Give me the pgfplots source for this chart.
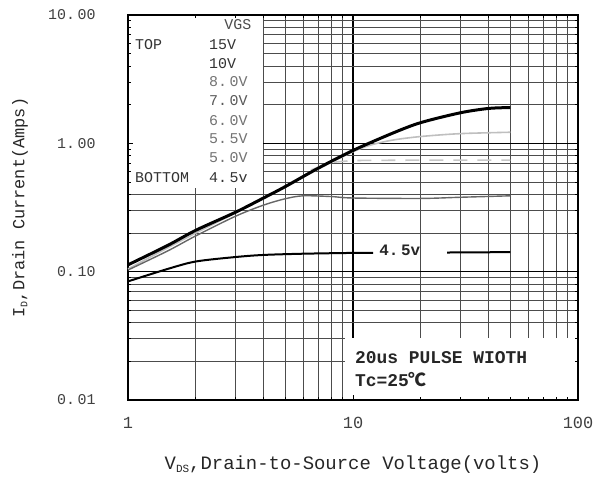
\documentclass[border=0pt]{standalone}
\usepackage{fontspec}
\setmainfont{Liberation Mono}
\newfontfamily\cjk{Noto Sans CJK SC}
\usepackage{pgfplots}
\pgfplotsset{compat=1.18}
\pgfdeclarelayer{boxes}
\pgfplotsset{layers/mine/.define layer set={axis background,axis grid,boxes,axis ticks,axis lines,axis tick labels,pre main,main,axis descriptions,axis foreground}{
 grid style={/pgfplots/on layer=axis grid},
 tick style={/pgfplots/on layer=axis ticks},
 axis line style={/pgfplots/on layer=axis lines},
 label style={/pgfplots/on layer=axis descriptions},
 legend style={/pgfplots/on layer=axis descriptions},
 title style={/pgfplots/on layer=axis descriptions},
 ticklabel style={/pgfplots/on layer=axis tick labels},
 axis background@ style={/pgfplots/on layer=axis background},
 3d box foreground style={/pgfplots/on layer=axis foreground},
}}
\newcommand{\ds}{.\hspace{2.5bp}}
\begin{document}
\begin{tikzpicture}
\begin{axis}[
 set layers=mine,
 xmode=log, ymode=log,
 scale only axis, width=450bp, height=385bp,
 xmin=1, xmax=100, ymin=0.01, ymax=10,
 xtick={1,10,100}, xticklabels={1,10,100},
 ytick={0.01,0.1,1,10}, yticklabels={0\ds 01,0\ds 10,1\ds 00,10\ds 00},
 grid=both,
 major grid style={black, line width=1.6bp},
 minor grid style={black!70, line width=0.9bp},
 axis line style={black, line width=2.2bp},
 tick style={black, line width=0.8bp},
 major tick length=5bp, minor tick length=3bp,
 tick align=inside,
 xticklabel style={font=\fontsize{17}{19}\selectfont, text=black!75, yshift=-14bp},
 yticklabel style={font=\fontsize{15}{17}\selectfont, text=black!75, xshift=-29bp},
 xlabel={V{\fontsize{11}{11}\selectfont\raisebox{-3bp}{DS}},Drain-to-Source Voltage(volts)},
 ylabel={I{\fontsize{10}{10}\selectfont\raisebox{-3bp}{D}},Drain Current(Amps)},
 xlabel style={at={(axis description cs:0.5,-0.169)}, anchor=center, font=\fontsize{19}{21}\selectfont, text=black!85},
 ylabel style={at={(axis description cs:-0.24,0.5)}, anchor=center, font=\fontsize{17}{19}\selectfont, text=black!85},
 clip=false,
]
\begin{pgfonlayer}{boxes}
\fill[white] (rel axis cs:0,0.551) rectangle (rel axis cs:0.3,1);
\fill[white] (rel axis cs:0.482,0) rectangle (rel axis cs:1,0.161);
\end{pgfonlayer}

% 6.0V light gray
\addplot[black!25, line width=1.6bp, smooth] coordinates {
(1,0.105) (2,0.2) (4,0.37) (7,0.63) (10,0.86) (12,0.97) (15,1.06) (20,1.13) (30,1.19) (50,1.22)};
% 5.0V dashed light gray
\addplot[black!22, line width=1.6bp, dash pattern=on 14bp off 10bp] coordinates {
(6.5,0.62) (8,0.71) (10,0.735) (20,0.74) (50,0.74)};
% 5.5V dark gray
\addplot[black!60, line width=1.4bp, smooth] coordinates {
(1,0.103) (1.5,0.145) (2,0.19) (3,0.27) (4,0.33) (5,0.37) (6,0.39) (8,0.385) (10,0.375) (20,0.372) (30,0.38) (50,0.39)};
% 15V .. 7.0V thick black
\addplot[black, line width=3bp, smooth] coordinates {
(1,0.113) (1.5,0.16) (2,0.21) (3,0.29) (4,0.375) (5,0.46) (7,0.64) (10,0.88) (15,1.2) (20,1.45) (30,1.73) (40,1.87) (50,1.9)};
% 4.5V black
\addplot[black, line width=2bp, smooth] coordinates {
(1,0.084) (1.5,0.105) (2,0.12) (3,0.13) (4,0.135) (6,0.138) (10,0.14) (12.3,0.14)};
\addplot[black, line width=2bp] coordinates {(26.2,0.141) (50,0.142)};

\node[font=\bfseries\fontsize{16}{18}\selectfont, text=black!85] at (rel axis cs:0.604,0.39) {4\ds 5v};

\begin{scope}[every node/.style={font=\fontsize{15}{17}\selectfont, anchor=west, inner sep=0pt}]
\node[anchor=center, text=black!70] at (rel axis cs:0.244,0.974) {VGS};
\node[text=black!80] at (rel axis cs:0.0156,0.922) {TOP};
\node[text=black!80] at (rel axis cs:0.18,0.922) {15V};
\node[text=black!80] at (rel axis cs:0.18,0.875) {10V};
\node[text=black!55] at (rel axis cs:0.18,0.826) {8\ds 0V};
\node[text=black!65] at (rel axis cs:0.18,0.777) {7\ds 0V};
\node[text=black!55] at (rel axis cs:0.18,0.727) {6\ds 0V};
\node[text=black!55] at (rel axis cs:0.18,0.678) {5\ds 5V};
\node[text=black!55] at (rel axis cs:0.18,0.629) {5\ds 0V};
\node[text=black!80] at (rel axis cs:0.0156,0.577) {BOTTOM};
\node[text=black!80] at (rel axis cs:0.18,0.577) {4\ds 5v};
\end{scope}

\node[font=\bfseries\fontsize{18}{20}\selectfont, anchor=west, inner sep=0pt, text=black!85] at (rel axis cs:0.504,0.109) {20us PULSE WIOTH};
\node[font=\bfseries\fontsize{18}{20}\selectfont, anchor=west, inner sep=0pt, text=black!85] at (rel axis cs:0.504,0.052) {Tc=25{\cjk ℃}};

\coordinate (O) at (rel axis cs:0,0);
\end{axis}
\pgfresetboundingbox
\path[use as bounding box] (O) ++(-128bp,-80bp) rectangle ++(593bp,480bp);
\end{tikzpicture}
\end{document}
